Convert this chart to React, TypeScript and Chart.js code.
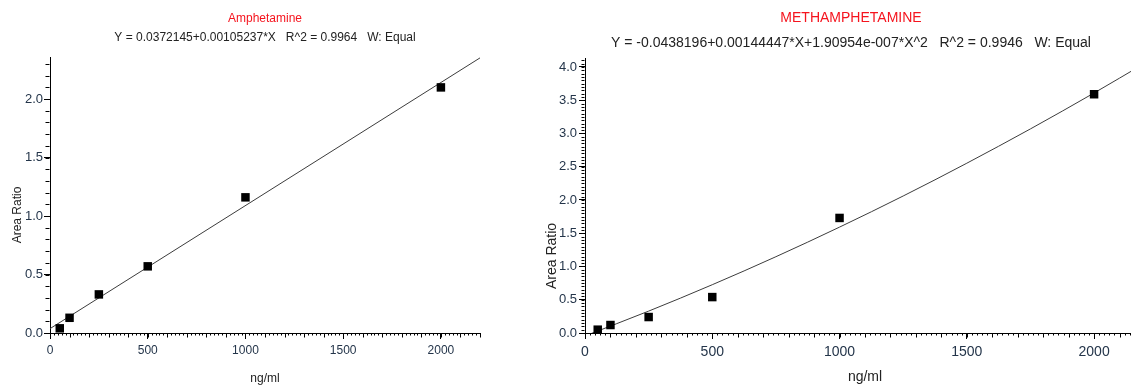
import React, { useEffect, useRef } from "react";
import { Chart, registerables } from "chart.js";

Chart.register(...registerables);

// ---------- data ----------
const AMP_CONC = [50, 100, 250, 500, 1000, 2000];
const AMP_RATIO = [0.04, 0.13, 0.33, 0.57, 1.16, 2.1];
const AMP_FIT_X = [0, 2200];
const AMP_FIT_Y = [0.0372, 2.3524];

const METH_CONC = [50, 100, 250, 500, 1000, 2000];
const METH_RATIO = [0.05, 0.12, 0.24, 0.54, 1.73, 3.59];
const METH_FIT_X = [0, 250, 500, 750, 1000, 1250, 1500, 1750, 2000, 2200];
const METH_FIT_Y = [-0.044, 0.329, 0.726, 1.147, 1.592, 2.06, 2.553, 3.069, 3.609, 4.058];

const X_TICKS = [0, 500, 1000, 1500, 2000];
const AMP_Y_TICKS = [0, 0.5, 1, 1.5, 2];
const METH_Y_TICKS = [0, 0.5, 1, 1.5, 2, 2.5, 3, 3.5, 4];

const AMP_TITLE = "Amphetamine";
const AMP_EQ = "Y = 0.0372145+0.00105237*X   R^2 = 0.9964   W: Equal";
const METH_TITLE = "METHAMPHETAMINE";
const METH_EQ = "Y = -0.0438196+0.00144447*X+1.90954e-007*X^2   R^2 = 0.9946   W: Equal";
const X_TITLE = "ng/ml";
const Y_TITLE = "Area Ratio";

// ---------- styling ----------
const RED = "#f5141e";
const TEXT = "#222222";
const TICK_TEXT = "#24354a";
const NARROW = "'Liberation Sans Narrow', 'Liberation Sans', Arial, sans-serif";
const REGULAR = "'Liberation Sans', Arial, sans-serif";

const minorTicks = {
  id: "minorTicks",
  afterDraw(chart: any, _args: any, opts: any) {
    const ctx = chart.ctx;
    ctx.save();
    ctx.strokeStyle = "#000";
    ctx.lineWidth = 1;
    for (const spec of opts.specs || []) {
      const scale = chart.scales[spec.axis];
      const n = Math.floor((scale.max + 1e-9) / spec.step);
      for (let i = 0; i <= n; i++) {
        const v = i * spec.step;
        if (v < scale.min) continue;
        const p = Math.round(scale.getPixelForValue(v)) + 0.5;
        ctx.beginPath();
        if (scale.isHorizontal()) {
          const y0 = Math.round(scale.top) + 0.5;
          ctx.moveTo(p, y0);
          ctx.lineTo(p, y0 + spec.len);
        } else {
          const x0 = Math.round(scale.right) - 0.5;
          ctx.moveTo(x0, p);
          ctx.lineTo(x0 - spec.len, p);
        }
        ctx.stroke();
      }
    }
    ctx.restore();
  },
};

const yAxisLabel = {
  id: "yAxisLabel",
  afterDraw(chart: any, _args: any, opts: any) {
    if (!opts.text) return;
    const ctx = chart.ctx;
    ctx.save();
    ctx.translate(opts.x, opts.y);
    ctx.rotate(-Math.PI / 2);
    ctx.textAlign = "center";
    ctx.textBaseline = "middle";
    ctx.fillStyle = TEXT;
    ctx.font = `${opts.size}px ${opts.family}`;
    ctx.fillText(opts.text, 0, 0);
    ctx.restore();
  },
};

function makeConfig(p: any) {
  const pts = p.xs.map((x: number, i: number) => ({ x, y: p.ys[i] }));
  const fit = p.fx.map((x: number, i: number) => ({ x, y: p.fy[i] }));
  return {
    type: "scatter",
    data: {
      datasets: [
        {
          data: pts,
          showLine: false,
          pointStyle: "rect",
          pointRadius: 6,
          pointHoverRadius: 6,
          backgroundColor: "#000",
          borderColor: "#000",
          borderWidth: 0,
          order: 0,
        },
        {
          data: fit,
          showLine: true,
          pointRadius: 0,
          borderColor: "#3c3c3c",
          borderWidth: 1,
          cubicInterpolationMode: "monotone",
          fill: false,
          order: 1,
        },
      ],
    },
    options: {
      animation: false,
      responsive: true,
      maintainAspectRatio: false,
      events: [],
      layout: { padding: p.padding },
      plugins: {
        legend: { display: false },
        tooltip: { enabled: false },
        title: {
          display: true,
          text: p.title,
          color: RED,
          fullSize: p.fullSize,
          font: { family: p.family, size: p.titleSize, weight: "normal", lineHeight: 1.2 },
          padding: p.titlePad,
        },
        subtitle: {
          display: true,
          text: p.eq,
          color: TEXT,
          fullSize: p.fullSize,
          font: { family: p.family, size: p.titleSize, weight: "normal", lineHeight: 1.2 },
          padding: p.subPad,
        },
        minorTicks: { specs: p.minor },
        yAxisLabel: { text: Y_TITLE, x: p.yLabelX, y: p.yLabelY, size: p.yLabelSize, family: p.family },
      },
      scales: {
        x: {
          type: "linear",
          min: 0,
          max: p.xMax,
          afterFit: (s: any) => {
            s.height = 54;
          },
          afterBuildTicks: (s: any) => {
            s.ticks = X_TICKS.map((v) => ({ value: v }));
          },
          border: { display: true, color: "#000", width: 1 },
          grid: { display: true, drawOnChartArea: false, drawTicks: true, tickLength: 6, tickColor: "#000", color: "#000" },
          ticks: {
            color: TICK_TEXT,
            font: { family: p.family, size: p.xTickSize },
            padding: p.xTickPad,
            maxRotation: 0,
            autoSkip: false,
            callback: (v: any) => String(v),
          },
          title: {
            display: true,
            text: X_TITLE,
            color: TEXT,
            font: { family: p.family, size: p.titleSize, lineHeight: 1.2 },
            padding: { top: 0, bottom: 1 },
          },
        },
        y: {
          type: "linear",
          min: 0,
          max: p.yMax,
          afterFit: (s: any) => {
            s.width = p.yWidth;
          },
          afterBuildTicks: (s: any) => {
            s.ticks = p.yTicks.map((v: number) => ({ value: v }));
          },
          border: { display: true, color: "#000", width: 1 },
          grid: { display: true, drawOnChartArea: false, drawTicks: true, tickLength: 6, tickColor: "#000", color: "#000" },
          ticks: {
            color: TICK_TEXT,
            font: { family: p.family, size: p.yTickSize },
            padding: p.yTickPad,
            autoSkip: false,
            callback: (v: any) => Number(v).toFixed(1),
          },
          title: { display: false },
        },
      },
    },
    plugins: [minorTicks, yAxisLabel],
  };
}

function ChartPanel({ params, style }: { params: any; style: React.CSSProperties }) {
  const ref = useRef<HTMLCanvasElement | null>(null);
  useEffect(() => {
    if (!ref.current) return;
    const chart = new Chart(ref.current, makeConfig(params) as any);
    return () => chart.destroy();
  }, []);
  return (
    <div style={{ position: "absolute", top: 0, ...style }}>
      <canvas ref={ref} />
    </div>
  );
}

const LEFT = {
  xs: AMP_CONC,
  ys: AMP_RATIO,
  fx: AMP_FIT_X,
  fy: AMP_FIT_Y,
  yTicks: AMP_Y_TICKS,
  title: AMP_TITLE,
  eq: AMP_EQ,
  family: NARROW,
  titleSize: 12,
  xTickSize: 12,
  yTickSize: 13,
  yLabelSize: 12,
  fullSize: false,
  titlePad: { top: 11, bottom: 2 },
  subPad: { top: 3, bottom: 12.2 },
  padding: { left: 0, right: 60, top: 0, bottom: 0 },
  yWidth: 50,
  xMax: 2200,
  yMax: 2.36,
  xTickPad: 4,
  yTickPad: 1,
  yLabelX: 18,
  yLabelY: 215,
  minor: [
    { axis: "x", step: 100, len: 4 },
    { axis: "x", step: 20, len: 2 },
    { axis: "y", step: 0.1, len: 4 },
  ],
};

const RIGHT = {
  xs: METH_CONC,
  ys: METH_RATIO,
  fx: METH_FIT_X,
  fy: METH_FIT_Y,
  yTicks: METH_Y_TICKS,
  title: METH_TITLE,
  eq: METH_EQ,
  family: REGULAR,
  titleSize: 14,
  xTickSize: 14,
  yTickSize: 13,
  yLabelSize: 14,
  fullSize: true,
  titlePad: { top: 10, bottom: 2 },
  subPad: { top: 6, bottom: 6.4 },
  padding: { left: 17, right: 15, top: 0, bottom: 0 },
  yWidth: 28,
  xMax: 2200,
  yMax: 4.135,
  xTickPad: 5,
  yTickPad: 2,
  yLabelX: 12,
  yLabelY: 256,
  minor: [
    { axis: "x", step: 100, len: 4 },
    { axis: "x", step: 20, len: 2 },
    { axis: "y", step: 0.05, len: 3 },
  ],
};

export default function App() {
  return (
    <div
      style={{
        position: "absolute",
        left: 0,
        top: 0,
        width: 1131,
        height: 387,
        overflow: "hidden",
        background: "#fff",
      }}
    >
      <ChartPanel params={LEFT} style={{ left: 0, width: 540, height: 387 }} />
      <ChartPanel params={RIGHT} style={{ left: 540, width: 620, height: 387 }} />
    </div>
  );
}
